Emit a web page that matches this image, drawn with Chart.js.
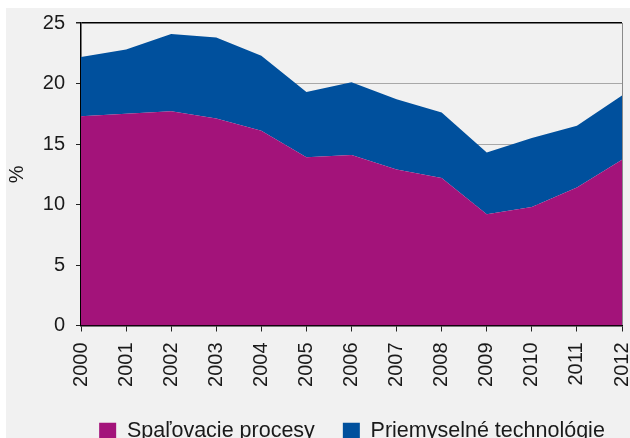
<!DOCTYPE html>
<html>
<head>
<meta charset="utf-8">
<script src="https://cdn.jsdelivr.net/npm/chart.js@4.4.1/dist/chart.umd.min.js"></script>
<style>
    html, body { margin: 0; padding: 0; width: 630px; height: 438px; overflow: hidden; background: #ffffff; }
    #panel { position: absolute; left: 6px; top: 8px; width: 624px; height: 430px; background: #f1f1f1; }
    #wrap { position: absolute; left: 0; top: 0; width: 704px; height: 452px; }
</style>
</head>
<body>
<div id="panel"></div>
<div id="wrap"><canvas id="chart" width="704" height="452"></canvas></div>
<script>
// Roky a hodnoty (%) odčítané z grafu
const roky = ['2000', '2001', '2002', '2003', '2004', '2005', '2006', '2007', '2008', '2009', '2010', '2011', '2012'];
const spalovacieProcesy = [17.3, 17.5, 17.7, 17.1, 16.1, 13.9, 14.1, 12.9, 12.2, 9.2, 9.8, 11.4, 13.7];
const priemyselneTechnologie = [4.9, 5.3, 6.4, 6.7, 6.2, 5.4, 6.0, 5.8, 5.4, 5.1, 5.7, 5.1, 5.3];
const yTicks = [0, 5, 10, 15, 20, 25];

const FONT = "'Liberation Sans', Arial, Helvetica, sans-serif";
Chart.defaults.font.family = FONT;
Chart.defaults.color = '#1a1a1a';

new Chart(document.getElementById('chart'), {
    type: 'line',
    data: {
        labels: roky,
        datasets: [{
            label: 'Spaľovacie procesy',
            data: spalovacieProcesy,
            backgroundColor: '#a3137a',
            borderColor: '#a3137a',
            borderWidth: 0,
            pointRadius: 0,
            fill: 'origin'
        }, {
            label: 'Priemyselné technológie',
            data: priemyselneTechnologie,
            backgroundColor: '#00509d',
            borderColor: '#00509d',
            borderWidth: 0,
            pointRadius: 0,
            fill: '-1'
        }]
    },
    options: {
        responsive: false,
        animation: false,
        layout: { padding: { top: 21, left: 0, right: 0, bottom: 0 } },
        plugins: {
            legend: {
                position: 'bottom',
                labels: {
                    boxWidth: 17,
                    boxHeight: 17,
                    padding: 28,
                    font: { size: 21.5 },
                    color: '#1a1a1a'
                }
            },
            tooltip: { enabled: false }
        },
        scales: {
            x: {
                offset: false,
                grid: {
                    color: ctx => ctx.index === roky.length - 1 ? '#8a8a8a' : 'rgba(0,0,0,0)',
                    tickColor: '#222',
                    tickLength: 6
                },
                border: { color: '#000', width: 1.5 },
                ticks: {
                    minRotation: 90,
                    maxRotation: 90,
                    padding: 11,
                    autoSkip: false,
                    font: { size: 20 }
                },
                afterFit: s => { s.height = 67; s.paddingLeft = 0; s.paddingRight = 0; }
            },
            y: {
                stacked: true,
                min: 0,
                max: 25,
                afterBuildTicks: s => { s.ticks = yTicks.map(v => ({ value: v })); },
                grid: {
                    color: ctx => ctx.tick && ctx.tick.value === 25 ? '#000' : '#a8a8a8',
                    lineWidth: ctx => ctx.tick && ctx.tick.value === 25 ? 1.5 : 1,
                    tickColor: '#222',
                    tickLength: 5
                },
                border: { color: '#000', width: 1.5 },
                ticks: { padding: 11, font: { size: 20 } },
                title: {
                    display: true,
                    text: '%',
                    font: { size: 20 },
                    padding: { top: 5, bottom: 0 }
                },
                afterFit: s => { s.width = 81; }
            },
            // prázdna os vpravo – len rezervuje miesto, aby legenda bola centrovaná
            yPravo: {
                position: 'right',
                grid: { display: false },
                border: { display: false },
                ticks: { display: false },
                afterFit: s => { s.width = 82; s.paddingTop = 0; s.paddingBottom = 0; }
            }
        }
    }
});
</script>
</body>
</html>
